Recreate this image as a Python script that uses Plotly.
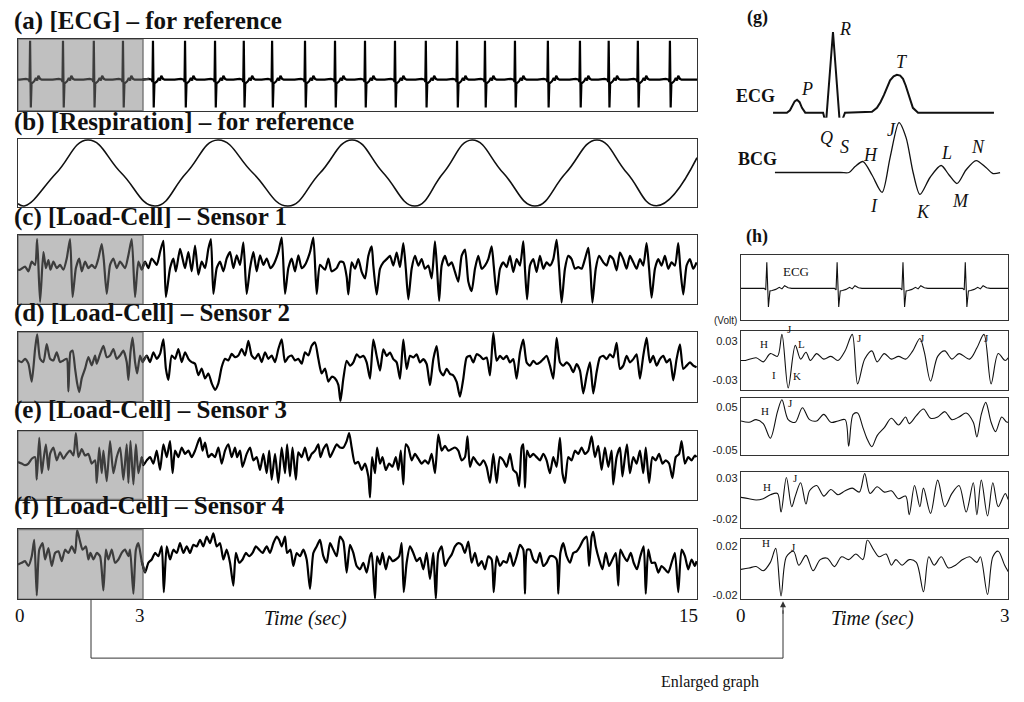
import numpy as np
import plotly.graph_objects as go

W, H = 1024, 702
SERIF = "Liberation Serif"
SANS = "Liberation Sans"

# ── Data ──────────────────────────────────────────────────────────────────────
# (a) ECG: R-peak times (s) and one beat template (offset from R in s, amplitude)
ecg_beat_t = [0.29, 1.08, 1.82, 2.52, 3.24, 4.01, 4.73, 5.42, 6.10, 6.89, 7.61,
              8.33, 9.05, 9.79, 10.54, 11.21, 11.93, 12.72, 13.49, 14.18, 14.88, 15.65]
ecg_tmpl_dt = [-0.25, -0.10, -0.03, -0.012, 0.0, 0.018, 0.035, 0.06, 0.10, 0.14,
               0.17, 0.20, 0.24, 0.28, 0.40]
ecg_tmpl_v = [0.0, 0.02, 0.0, -0.06, 1.0, -0.72, -0.10, -0.08, -0.04, 0.04,
              -0.02, 0.10, 0.02, 0.0, 0.0]

# (b) respiration: extremes and zero crossings
resp_t = [0.00, 0.17, 0.92, 1.68, 2.48, 3.29, 4.04, 4.80, 5.64, 6.48, 7.25, 8.02,
          8.77, 9.53, 10.21, 10.90, 11.65, 12.41, 13.15, 13.90, 14.62, 15.33, 16.30]
resp_v = [-0.9, -0.96, 0, 0.97, 0, -0.97, 0, 0.97, 0, -0.97, 0, 0.97,
          0, -0.97, 0, 0.97, 0, -0.97, 0, 0.97, 0, -0.96, 0.45]

# (c) load-cell sensor 1
s1_t = [0.00, 0.05, 0.17, 0.25, 0.33, 0.41, 0.46, 0.53, 0.61, 0.67,
        0.73, 0.78, 0.85, 0.93, 1.01, 1.09, 1.17, 1.25, 1.31, 1.39,
        1.47, 1.53, 1.61, 1.69, 1.77, 1.85, 1.93, 2.01, 2.06, 2.13,
        2.21, 2.29, 2.37, 2.45, 2.57, 2.65, 2.73, 2.81, 2.89, 2.97,
        3.05, 3.13, 3.21, 3.33, 3.41, 3.49, 3.55, 3.65, 3.73, 3.79,
        3.89, 3.95, 4.01, 4.09, 4.17, 4.25, 4.33, 4.41, 4.49, 4.57,
        4.63, 4.69, 4.77, 4.85, 4.93, 5.01, 5.09, 5.17, 5.25, 5.33,
        5.41, 5.49, 5.57, 5.65, 5.73, 5.81, 5.89, 5.97, 6.06, 6.13,
        6.25, 6.33, 6.41, 6.49, 6.57, 6.65, 6.73, 6.81, 6.89, 7.01,
        7.09, 7.17, 7.25, 7.37, 7.45, 7.53, 7.65, 7.73, 7.81, 7.89,
        7.93, 8.01, 8.09, 8.17, 8.25, 8.33, 8.41, 8.49, 8.53, 8.61,
        8.69, 8.77, 8.85, 8.93, 9.01, 9.09, 9.17, 9.25, 9.31, 9.37,
        9.45, 9.53, 9.61, 9.69, 9.77, 9.85, 9.93, 10.01, 10.06, 10.11,
        10.17, 10.25, 10.33, 10.41, 10.49, 10.57, 10.65, 10.73, 10.81, 10.89,
        10.97, 11.05, 11.13, 11.21, 11.29, 11.37, 11.42, 11.49, 11.57, 11.65,
        11.73, 11.81, 11.89, 11.97, 12.05, 12.13, 12.17, 12.22, 12.29, 12.37,
        12.45, 12.53, 12.61, 12.69, 12.77, 12.85, 12.93, 12.99, 13.05, 13.13,
        13.21, 13.29, 13.37, 13.45, 13.53, 13.61, 13.69, 13.74, 13.79, 13.87,
        13.95, 14.05, 14.13, 14.21, 14.29, 14.37, 14.45, 14.53, 14.61, 14.69,
        14.77, 14.85, 14.93, 15.01, 15.09, 15.15, 15.21, 15.29, 15.37, 15.45,
        15.53, 15.61, 15.69, 15.77, 15.85, 15.90, 15.97, 16.05, 16.13, 16.21,
        16.29]
s1_v = [0, 0, 1, -0.5, 2.5, 1.5, 9.5, -10, 5.5, 0.5,
        3, 0, 2.5, 0.5, 1.5, 0, 3.5, 9.5, -8.5, 0.5,
        3.5, -0.5, 2.5, 0.5, 1.5, 0.5, 3.5, 8, 3, -7.5,
        1.5, 3.5, 0.5, 2.5, 0.5, 4.5, 9.5, -8.5, 2.5, 0,
        2.5, 0.5, 3.5, 1.5, 5.5, 9, -8.5, 0.5, 3.5, -0.5,
        6.5, 3.5, 0.5, 5.5, -0.5, 7.5, -1.5, 2.5, 0.5, 6.5,
        9.5, -7.5, 0.5, 2.5, -0.5, 3.5, 5.5, 0.5, 4.5, 1.5,
        8.5, -7.5, 0.5, 5.5, -0.5, 4.5, 1.5, 3.5, 0.5, 1.5,
        5.5, 10, -7.5, 0.5, 3.5, -0.5, 4.5, 0.5, 1.5, 5.5,
        10, -7.5, 1.5, 0, 3.5, -0.5, 0.5, 2.5, 2.3, -2.2,
        -7.7, 2.3, 0.3, 3.3, -0.7, -2.7, 4.3, 7.3, 1.3, -7.7,
        0.3, 2.3, 3.3, 4.3, 1.3, 5.3, 0.8, 8.3, 0.3, -9.2,
        0.3, 4.3, 1.3, 3.3, 0.3, 1.3, -2.7, 8.8, 0.3, -9.7,
        1.3, 4.3, 1.3, 2.3, -0.7, -3.7, 4.3, 6.3, -3.7, -6.7,
        0.3, 4.3, 0.3, 1.3, 3.3, 7.3, 1.3, -7.7, 0.3, 2.3,
        0.8, 4.3, -0.7, 3.3, 1.3, 8.8, 0.3, -9.2, 1.3, 3.3,
        -0.7, 4.3, 0.3, 2.3, 1.3, 3.3, 9.3, 0.3, -10.2, 0.3,
        4.3, 3.3, 0.3, 0.8, 0.3, 3.3, 6.8, 0.3, -10.2, 0.3,
        4.3, 2.3, 1.3, 4.3, 3.3, -0.2, 5.3, 3.3, 0.3, 4.3,
        2.3, 0.3, 3.3, 1.3, 8.3, 0.3, -8.7, 0.3, 3.3, 1.3,
        4.3, 0.3, 2.3, 1.3, 8.3, 0.3, -7.7, 1.3, 3.3, 0.3,
        2.3]

# (d) load-cell sensor 2
s2_t = [0.00, 0.09, 0.17, 0.25, 0.33, 0.41, 0.46, 0.53, 0.61, 0.69,
        0.77, 0.85, 0.93, 1.01, 1.09, 1.17, 1.21, 1.26, 1.31, 1.37,
        1.42, 1.47, 1.53, 1.61, 1.69, 1.77, 1.85, 1.89, 1.97, 2.05,
        2.13, 2.21, 2.29, 2.37, 2.45, 2.53, 2.61, 2.65, 2.70, 2.75,
        2.81, 2.86, 2.93, 2.99, 3.09, 3.17, 3.25, 3.33, 3.41, 3.49,
        3.55, 3.61, 3.69, 3.77, 3.85, 3.93, 4.01, 4.09, 4.17, 4.25,
        4.33, 4.41, 4.49, 4.57, 4.65, 4.73, 4.81, 4.89, 4.97, 5.05,
        5.13, 5.21, 5.29, 5.37, 5.45, 5.53, 5.61, 5.69, 5.77, 5.85,
        5.93, 6.01, 6.09, 6.17, 6.25, 6.33, 6.41, 6.49, 6.57, 6.65,
        6.73, 6.81, 6.89, 6.97, 7.05, 7.13, 7.21, 7.29, 7.37, 7.45,
        7.53, 7.61, 7.69, 7.74, 7.81, 7.89, 7.97, 8.05, 8.13, 8.21,
        8.29, 8.37, 8.45, 8.53, 8.61, 8.69, 8.77, 8.85, 8.93, 9.01,
        9.09, 9.17, 9.25, 9.33, 9.41, 9.49, 9.57, 9.65, 9.73, 9.81,
        9.89, 9.97, 10.05, 10.13, 10.21, 10.29, 10.37, 10.45, 10.53, 10.61,
        10.69, 10.77, 10.85, 10.93, 11.01, 11.09, 11.17, 11.25, 11.33, 11.41,
        11.49, 11.57, 11.65, 11.73, 11.81, 11.89, 11.97, 12.05, 12.13, 12.21,
        12.29, 12.37, 12.45, 12.53, 12.61, 12.69, 12.77, 12.85, 12.93, 13.01,
        13.09, 13.17, 13.25, 13.33, 13.41, 13.49, 13.57, 13.65, 13.73, 13.81,
        13.89, 13.97, 14.05, 14.13, 14.21, 14.29, 14.37, 14.45, 14.53, 14.61,
        14.69, 14.77, 14.85, 14.93, 15.01, 15.09, 15.17, 15.25, 15.33, 15.41,
        15.49, 15.57, 15.65, 15.73, 15.81, 15.89, 15.97, 16.05, 16.13, 16.21,
        16.29]
s2_v = [2, 1.5, 2.5, 1, -4.5, 5.5, 10, 2.5, 1.5, 7,
        2.5, 2, 4.5, 1.5, 2, 2.5, -7.5, 4.5, 5, -0.5,
        -5, -7.7, -3.5, -0.5, 3, 0.5, 3.5, 1, 4, 6.5,
        3, 3.5, 5.5, 2.5, 3.5, 5, 1.5, -4, 4.5, 9,
        1.5, -2, 3.5, 1.5, 3.5, 1.5, 4.5, 2.5, 4, 8.5,
        -0.5, -4, 3.5, 2.5, 5.5, 1.5, 4.5, 2.5, 1.5, 1,
        -2.5, -0.5, -3.5, -2, -5, -7, -5, 0, 2.5, 2,
        4, 3, 3.5, 5.5, 3.5, 8, 3.5, 2.5, 4, 1.5,
        4.5, 2.5, 3.5, 1.5, 5.5, 8.5, 1.5, 3, 3.5, 2,
        2.5, 1, 4.5, 3.5, 6.5, 7.5, 2.5, -2, -0.5, -4.5,
        -3, -3.5, -5.5, -10.5, -3.6, 1.9, 0.4, 1.4, 3.9, 2.9,
        3.4, 1.4, -3.6, 8.4, 3.4, -1.1, 5.4, 3.4, 4.4, 2.4,
        1.4, -3.6, 8.4, -0.6, 3.4, 2.9, 3.9, 1.4, 2.4, 0.9,
        -5.6, 2.4, 6.4, -1.1, -2.6, -0.6, -2.1, -2.6, -4.6, -9.1,
        -3.6, 2.9, 3.4, 1.4, 3.9, 3.4, 2.4, 2.9, -2.6, 10.4,
        1.9, 3.4, 2.4, 3.4, 1.4, 2.4, -3.6, 4.4, 8.4, 1.4,
        0.4, 1.9, 0.9, 1.4, 2.4, 3.4, 0.4, -3.6, 8.9, 1.4,
        0.4, 1.4, 0.4, -1.6, 0.9, -1.1, -8.1, -2.6, 1.4, -8.1,
        -1.6, 2.9, 3.4, 2.4, 3.9, 2.9, 7.4, -0.6, 0.4, 3.4,
        1.4, 2.4, 3.9, -3.6, 3.4, 8.9, 1.4, 3.4, 0.4, 2.4,
        3.4, 1.4, 2.4, -4.1, 2.4, 6.9, -0.6, 0.4, 1.4, 0.4,
        -0.1]

# (e) load-cell sensor 3
s3_t = [0.00, 0.09, 0.17, 0.25, 0.33, 0.41, 0.45, 0.51, 0.57, 0.61,
        0.67, 0.73, 0.77, 0.85, 0.93, 1.01, 1.09, 1.17, 1.25, 1.33,
        1.39, 1.45, 1.53, 1.61, 1.69, 1.77, 1.85, 1.89, 1.95, 2.01,
        2.05, 2.13, 2.21, 2.29, 2.37, 2.45, 2.53, 2.61, 2.65, 2.70,
        2.77, 2.83, 2.89, 2.97, 3.01, 3.09, 3.17, 3.25, 3.33, 3.41,
        3.49, 3.57, 3.65, 3.71, 3.77, 3.85, 3.93, 4.01, 4.09, 4.17,
        4.25, 4.33, 4.37, 4.43, 4.49, 4.57, 4.65, 4.73, 4.81, 4.89,
        4.97, 5.05, 5.13, 5.21, 5.26, 5.33, 5.39, 5.49, 5.57, 5.65,
        5.73, 5.81, 5.89, 5.97, 6.03, 6.09, 6.17, 6.25, 6.33, 6.41,
        6.46, 6.53, 6.59, 6.67, 6.73, 6.81, 6.89, 6.97, 7.05, 7.13,
        7.21, 7.26, 7.33, 7.41, 7.49, 7.57, 7.65, 7.73, 7.81, 7.89,
        7.95, 8.01, 8.09, 8.17, 8.25, 8.33, 8.41, 8.45, 8.50, 8.57,
        8.62, 8.69, 8.75, 8.83, 8.91, 8.99, 9.07, 9.13, 9.19, 9.25,
        9.31, 9.37, 9.45, 9.53, 9.61, 9.69, 9.77, 9.85, 9.93, 10.01,
        10.09, 10.17, 10.25, 10.33, 10.41, 10.49, 10.57, 10.65, 10.73, 10.79,
        10.85, 10.93, 11.01, 11.09, 11.17, 11.25, 11.33, 11.41, 11.49, 11.57,
        11.65, 11.73, 11.81, 11.89, 11.97, 12.03, 12.09, 12.13, 12.17, 12.22,
        12.29, 12.37, 12.45, 12.53, 12.61, 12.69, 12.77, 12.85, 12.93, 13.01,
        13.07, 13.13, 13.21, 13.29, 13.37, 13.45, 13.53, 13.61, 13.69, 13.77,
        13.85, 13.93, 14.01, 14.09, 14.17, 14.25, 14.29, 14.37, 14.45, 14.51,
        14.57, 14.62, 14.69, 14.77, 14.85, 14.93, 15.01, 15.07, 15.15, 15.23,
        15.31, 15.39, 15.47, 15.55, 15.63, 15.71, 15.79, 15.87, 15.93, 16.01,
        16.09, 16.17, 16.25, 16.29]
s3_v = [1, 0.5, 0, 0.5, 2, 2.5, -4.5, 8.5, -2.5, 1.5,
        6.5, -1.5, 3.5, 5.5, 1.5, 4, 2, 3.5, 4.5, 3,
        10, 2.5, 5, 3, 3.5, 0.5, 1.5, -5.5, 5.5, -2.5,
        4.5, -5, 7.5, -2.5, 2.5, 5.5, -4.5, 6.5, -5.5, 7.5,
        -6, 6.5, -2.5, 2.5, 0, 1.5, 2.5, 0.5, 4.5, -1.5,
        6.5, 2.5, 7.5, -2.5, 4.5, 2.5, 5.5, 3.5, 4.5, 2.5,
        4.5, 7.5, 8.5, 4.5, 7, 2.5, 3.5, 2.5, 5.5, 0.5,
        4.5, 6.5, 2.5, 5.5, 2.5, 4.5, -0.5, 3.5, 5.5, 1.5,
        2.5, -1.5, 3.5, -2.5, 4.5, -4.5, 3.5, -5.5, 5.5, -2.5,
        6.5, -3.5, 5.5, -4.5, 4, 2.5, 5.5, 1.5, 3.5, 4.5,
        6.5, 2.5, 5, 6.5, 2.5, 4.5, 6.5, 5.5, 5.5, 7.5,
        10, 5.5, 0.5, 1, -1.5, 0.5, -3.5, -10, 2.5, -2.5,
        5.5, 0.5, 2.5, -1.5, 0.5, -0.5, 2.5, -1.5, 4.5, -6,
        6.5, 5.5, 1.5, 3.5, 2, 0.5, 1.5, 0.5, 3.5, -2.5,
        9.5, 4.5, 6, 4.5, 5, 5.5, 4.5, 1.5, 2.5, 9,
        -0.5, 2.5, 1, 0, 1.5, -0.5, -5.5, 3.5, -5.5, 2.5,
        1.5, -0.5, 3.5, -1.5, -2.5, -6.5, 5.5, 6.5, -7, 4.5,
        2.5, 3.5, 2.5, 1.5, 3.5, 1.5, -2.5, 2.5, -0.5, 8.5,
        -2.5, -5.5, 2.5, 1.5, 4.5, 3.5, 5.5, 3.5, 4.5, 9,
        2.5, 6, -1.5, 5.5, -0.5, 4.5, -6, 2.5, 5.5, -3.5,
        2.5, 6.5, -2.5, 2.5, 0.5, 4.5, -2.5, 5.5, -5.5, 2.5,
        1.5, 3.5, 0.5, 1.5, 0.5, -4, 2.5, 3.5, 7.5, 0.5,
        2.5, 1.5, 3, 2.5]

# (f) load-cell sensor 4
s4_t = [0.00, 0.09, 0.17, 0.25, 0.33, 0.39, 0.45, 0.51, 0.59, 0.65,
        0.73, 0.81, 0.89, 0.97, 1.05, 1.13, 1.21, 1.29, 1.37, 1.42,
        1.49, 1.55, 1.63, 1.69, 1.74, 1.81, 1.89, 1.97, 2.05, 2.11,
        2.17, 2.25, 2.33, 2.41, 2.49, 2.57, 2.65, 2.69, 2.77, 2.83,
        2.89, 2.97, 3.05, 3.13, 3.21, 3.29, 3.37, 3.45, 3.50, 3.57,
        3.65, 3.73, 3.81, 3.89, 3.97, 4.05, 4.13, 4.21, 4.29, 4.37,
        4.45, 4.53, 4.61, 4.69, 4.77, 4.85, 4.93, 5.01, 5.09, 5.17,
        5.23, 5.31, 5.39, 5.47, 5.55, 5.63, 5.71, 5.79, 5.87, 5.97,
        6.05, 6.13, 6.21, 6.27, 6.33, 6.41, 6.46, 6.54, 6.61, 6.69,
        6.77, 6.85, 6.93, 7.01, 7.09, 7.17, 7.25, 7.33, 7.41, 7.49,
        7.57, 7.65, 7.73, 7.81, 7.89, 7.97, 8.05, 8.13, 8.21, 8.29,
        8.37, 8.45, 8.49, 8.57, 8.62, 8.69, 8.75, 8.83, 8.91, 8.99,
        9.07, 9.15, 9.21, 9.26, 9.33, 9.41, 9.49, 9.57, 9.65, 9.73,
        9.81, 9.89, 9.97, 10.03, 10.09, 10.17, 10.25, 10.33, 10.41, 10.49,
        10.57, 10.65, 10.73, 10.81, 10.89, 10.97, 11.05, 11.13, 11.21, 11.29,
        11.37, 11.42, 11.49, 11.57, 11.65, 11.73, 11.81, 11.89, 11.97, 12.05,
        12.13, 12.17, 12.22, 12.29, 12.37, 12.45, 12.53, 12.61, 12.69, 12.77,
        12.85, 12.93, 12.97, 13.02, 13.09, 13.17, 13.25, 13.33, 13.41, 13.49,
        13.57, 13.65, 13.71, 13.77, 13.81, 13.87, 13.95, 14.03, 14.11, 14.19,
        14.27, 14.35, 14.41, 14.46, 14.54, 14.62, 14.71, 14.78, 14.86, 14.94,
        15.02, 15.07, 15.13, 15.21, 15.29, 15.37, 15.45, 15.53, 15.61, 15.69,
        15.77, 15.85, 15.93, 16.01, 16.09, 16.17, 16.25, 16.29]
s4_v = [0, 0.5, 1, -0.5, 2.5, 7.5, -9.5, 4.5, 6.5, 1.5,
        5, -0.5, 3.5, 4, 1, 4.5, 3.5, 5.5, 3.5, 10.5,
        7, 4.5, 5.5, 1.5, 3.5, 1.5, 3.5, 2.5, -8, 4.5,
        1.5, 4.5, 0.5, 1.5, 3.5, 4.5, 2.5, 4.5, -9, 4.5,
        6.5, 1, -2.5, 0.5, 1.5, 3.5, 2.5, 5.5, -8.5, 5.5,
        1.5, 4.5, 3.5, 6.5, 3.5, 5.5, 3.5, 6, 5.5, 7.5,
        5.5, 8.5, 6.5, 9.5, 5.5, 6.5, 1.5, 4.5, 0.5, -6.5,
        3.5, 0.5, 1.5, 3.5, 2.5, 3.5, 5.5, 4.5, 3.5, 5.5,
        3.5, 6.5, 8.5, 7.5, 5.5, 8.5, 3.5, 4.5, -0.5, 3.5,
        2.5, 4.5, 1.5, -7.5, 3.5, 5.5, 7.5, 2.5, 0.5, 6.5,
        4.5, 2.5, 8.5, 7, -2.5, 6, 3.5, -0.5, -1.5, 0.5,
        -2.5, 2.5, 3.5, -10.5, 2.5, 0, 3.5, -1.5, 2.5, 1,
        1.5, 2.5, 6.5, -8.5, 0.5, 5.5, 3.5, 1, 2, -1.5,
        3.5, -4.5, 3.5, -10.5, 3.5, 5.5, -0.5, 1.5, 3, 5.5,
        6.5, 6, 3.5, 7, 0.5, 3.5, -0.5, 1, -1.5, 2.5,
        1.5, -8.5, 2.5, -0.5, 1, 0.5, 3.5, -0.5, 2.5, 6,
        4.5, -9, 4.5, 4.5, 1.5, 0.5, 3.5, -0.5, 0.5, 2.5,
        2.5, 1.5, -9, 3.5, 6.5, 2.5, 0.5, 3.5, 4, 5.5,
        7.5, 8.5, -0.5, 8.5, 10, 5.5, 1.5, -1.5, 3.5, -0.5,
        1.5, 3.5, -6.5, 4.5, 2.5, 1, 3.5, 0.5, -1.5, 2.5,
        5.5, -9, 4.5, 0.5, 0.5, -2.5, -0.5, -1.5, -2.5, 0.5,
        3.5, -8.5, 4.5, 2.5, -1.5, 1.5, -0.5, 1]

# (g) schematic ECG / BCG beat (time in ms, arbitrary amplitude)
g_ecg_ms = [13, 72, 85, 94, 105, 115, 126, 136, 150, 226, 238, 268, 298, 319,
            434, 455, 470, 485, 498, 511, 526, 540, 554, 566, 577, 587, 598, 608, 630, 953]
g_ecg_v = [0, 0, 0.03, 0.08, 0.14, 0.16, 0.13, 0.06, 0.0, 0.0, -0.14, 1.0, -0.17, 0.0,
           0.01, 0.06, 0.13, 0.22, 0.32, 0.40, 0.45, 0.47, 0.46, 0.42, 0.34, 0.25, 0.14, 0.06, 0.0, 0.0]
g_bcg_ms = [21, 300, 336, 362, 396, 434, 477, 511, 549, 579, 609, 638, 681, 728,
            762, 796, 834, 877, 919, 949, 979]
g_bcg_v = [0, 0, 0, 0.12, 0.22, -0.05, -0.4, 0.3, 1.0, 0.7, 0.0, -0.44, -0.1, 0.14,
           -0.05, -0.22, 0.05, 0.24, 0.1, -0.02, 0.0]

panel_titles = ["(a) [ECG] – for reference", "(b) [Respiration] – for reference",
                "(c) [Load-Cell] – Sensor 1", "(d) [Load-Cell] – Sensor 2",
                "(e) [Load-Cell] – Sensor 3", "(f) [Load-Cell] – Sensor 4"]
h_ticks = [["0.03", "-0.03"], ["0.05", "-0.05"], ["0.03", "-0.02"], ["0.02", "-0.02"]]

# ── helpers ───────────────────────────────────────────────────────────────────
def xd(x0, x1):
    return [x0 / W, x1 / W]


def yd(top, bottom):
    return [1 - bottom / H, 1 - top / H]


def ref(n):
    return ("x", "y") if n == 1 else (f"x{n}", f"y{n}")


layout_axes = {}


def add_axes(n, xdom, ydom, xr, yr, box=True, ytick=None):
    xk = "xaxis" if n == 1 else f"xaxis{n}"
    yk = "yaxis" if n == 1 else f"yaxis{n}"
    xr_, yr_ = ref(n)
    common = dict(showgrid=False, zeroline=False, ticks="", showline=box, mirror=box,
                  linecolor="#333", linewidth=1.4, visible=box, fixedrange=True)
    layout_axes[xk] = dict(domain=xdom, range=xr, anchor=yr_, showticklabels=False, **common)
    yax = dict(domain=ydom, range=yr, anchor=xr_, showticklabels=False, **common)
    if ytick is not None:
        yax.update(showticklabels=True, tickvals=ytick[0], ticktext=ytick[1],
                   tickfont=dict(family=SANS, size=11, color="#222"))
    layout_axes[yk] = yax


def split_at(t, v, cut):
    t = np.asarray(t, float)
    v = np.asarray(v, float)
    k = int(np.searchsorted(t, cut))
    return (t[:k + 1], v[:k + 1]), (t[k - 1:], v[k - 1:])


# build the ECG trace from beat times + template
ecg_t, ecg_v = [0.0], [0.0]
for b in ecg_beat_t:
    for dt, a in zip(ecg_tmpl_dt, ecg_tmpl_v):
        ecg_t.append(b + dt)
        ecg_v.append(a)
ecg_t.append(16.3)
ecg_v.append(0.0)

fig = go.Figure()
T_END = 16.3
LX = xd(18, 697)
boxes = [(39, 111), (139, 208), (236, 305), (333, 403), (432, 501), (531, 601)]
left_data = [(ecg_t, ecg_v, [-0.8, 1.05]), (resp_t, resp_v, [-1.01, 1.01]),
             (s1_t, s1_v, [-10.7, 10.7]), (s2_t, s2_v, [-10.7, 10.7]),
             (s3_t, s3_v, [-10.7, 10.7]), (s4_t, s4_v, [-10.7, 10.7])]
shapes = []
for i, ((top, bot), (t, v, yr)) in enumerate(zip(boxes, left_data)):
    n = i + 1
    add_axes(n, LX, yd(top, bot), [0, T_END], yr)
    xa, ya = ref(n)
    if i == 1:
        fig.add_trace(go.Scatter(x=t, y=v, xaxis=xa, yaxis=ya, mode="lines",
                                 line=dict(color="#111", width=1.6, shape="spline", smoothing=1.3),
                                 hoverinfo="skip", showlegend=False))
        continue
    shapes.append(dict(type="rect", xref=xa, yref=f"{ya} domain", x0=0, x1=3, y0=0, y1=1,
                       fillcolor="#c0c0c0", line=dict(color="#7c7c7c", width=1.5), layer="below"))
    (ta, va), (tb, vb) = split_at(t, v, 3.0)
    shp = dict(shape="linear") if i == 0 else dict(shape="spline", smoothing=0.6)
    fig.add_trace(go.Scatter(x=tb, y=vb, xaxis=xa, yaxis=ya, mode="lines",
                             line=dict(color="#000", width=2.2, **shp),
                             hoverinfo="skip", showlegend=False))
    fig.add_trace(go.Scatter(x=ta, y=va, xaxis=xa, yaxis=ya, mode="lines",
                             line=dict(color="#3d3d3d", width=2.2, **shp),
                             hoverinfo="skip", showlegend=False))

# (g) schematic
add_axes(7, xd(770, 1005), yd(28, 130), [0, 1000], [-0.21, 1.05], box=False)
add_axes(8, xd(770, 1005), yd(118, 200), [0, 1000], [-0.54, 1.1], box=False)
fig.add_trace(go.Scatter(x=g_ecg_ms, y=g_ecg_v, xaxis="x7", yaxis="y7", mode="lines",
                         line=dict(color="#111", width=2.0), hoverinfo="skip", showlegend=False))
fig.add_trace(go.Scatter(x=g_bcg_ms, y=g_bcg_v, xaxis="x8", yaxis="y8", mode="lines",
                         line=dict(color="#111", width=1.3, shape="spline", smoothing=0.8),
                         hoverinfo="skip", showlegend=False))

# (h) enlarged 0-3 s
HX = xd(741, 1008)
h_boxes = [(256, 321), (332, 391), (399, 456), (473, 530), (541, 601)]
h_tickvals = [[7.1, -7.1], [7.3, -8.8], [8.1, -7.3], [8.2, -9.3]]
h_data = [(ecg_t, ecg_v, [-1.22, 1.27]), (s1_t, s1_v, [-10.7, 10.7]), (s2_t, s2_v, [-10.7, 10.7]),
          (s3_t, s3_v, [-10.7, 10.7]), (s4_t, s4_v, [-10.7, 10.7])]
for j, ((top, bot), (t, v, yr)) in enumerate(zip(h_boxes, h_data)):
    n = 9 + j
    yt = None if j == 0 else (h_tickvals[j - 1], h_ticks[j - 1])
    add_axes(n, HX, yd(top, bot), [0, 3], yr, ytick=yt)
    shp = dict(shape="linear") if j == 0 else dict(shape="spline", smoothing=0.9)
    fig.add_trace(go.Scatter(x=t, y=v, xaxis=f"x{n}", yaxis=f"y{n}", mode="lines",
                             line=dict(color="#111", width=1.1, **shp),
                             hoverinfo="skip", showlegend=False))

# connector arrow "Enlarged graph"
for (x0, y0, x1, y1) in [(91, 601, 91, 660), (91, 660, 783, 660), (783, 660, 783, 612)]:
    shapes.append(dict(type="line", xref="paper", yref="paper", x0=x0 / W, y0=1 - y0 / H,
                       x1=x1 / W, y1=1 - y1 / H, line=dict(color="#333", width=1)))

ann = []


def note(text, x, y, size, family=SERIF, xanchor="center", color="#111"):
    ann.append(dict(text=text, x=x / W, y=1 - y / H, xref="paper", yref="paper",
                    showarrow=False, xanchor=xanchor, yanchor="middle",
                    font=dict(family=family, size=size, color=color)))


title_y = [21, 122, 218, 314, 411, 507]
for txt, y in zip(panel_titles, title_y):
    note(f"<b>{txt}</b>", 12, y, 25, xanchor="left")

note("0", 20, 617, 19)
note("3", 140, 617, 19)
note("15", 688, 617, 19)
note("<i>Time (sec)</i>", 305, 620, 20)
note("0", 741, 617, 19)
note("3", 1005, 617, 19)
note("<i>Time (sec)</i>", 872, 620, 20)
note("Enlarged graph", 710, 684, 16)

# (g) labels
note("<b>(g)</b>", 757, 18, 18)
note("<b>ECG</b>", 755, 96, 18)
note("<b>BCG</b>", 757, 159, 18)
for txt, x, y in [("R", 845, 29), ("T", 902, 62), ("P", 807, 89), ("Q", 826, 138), ("S", 844, 147),
                  ("H", 870, 155), ("J", 891, 130), ("I", 874, 207), ("K", 923, 213),
                  ("L", 946, 153), ("M", 960, 202), ("N", 978, 147)]:
    note(f"<i>{txt}</i>", x, y, 18)

# (h) labels
note("<b>(h)</b>", 757, 237, 18)
note("ECG", 796, 272, 13)
note("(Volt)", 725, 321, 10, family=SANS, color="#222")
for txt, x, y in [("H", 764, 345), ("J", 789, 330), ("L", 801, 345), ("I", 774, 376), ("K", 797, 377),
                  ("J", 859, 339), ("J", 922, 339), ("J", 986, 339),
                  ("H", 765, 412), ("J", 790, 404),
                  ("H", 767, 488), ("J", 795, 479),
                  ("H", 766, 545), ("J", 793, 549)]:
    note(txt, x, y, 11)

# arrowhead pointing into the enlarged panels
ann.append(dict(x=783 / W, y=1 - 603 / H, xref="paper", yref="paper", text="", showarrow=True,
                ax=0, ay=14, arrowhead=2, arrowsize=1.2, arrowwidth=1, arrowcolor="#333"))

fig.update_layout(
    width=W, height=H,
    margin=dict(l=0, r=0, t=0, b=0),
    paper_bgcolor="white", plot_bgcolor="white",
    showlegend=False,
    shapes=shapes,
    annotations=ann,
    **layout_axes,
)

# page body has a default 8px margin; drop it so the figure sits at the window origin
fig.write_html("out.html", config={"displayModeBar": False},
               post_script="document.body.style.margin='0';")
